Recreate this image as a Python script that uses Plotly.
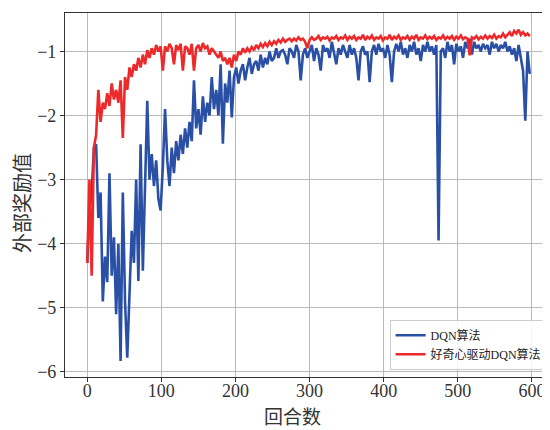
import plotly.graph_objects as go

# Episode step used when reading the curves off the picture
step = 3

dqn_reward = [
    -4.3, -3.5, -3.2, -2.5, -2.45, -3.6, -3.2, -4.9, -4.2, -4.6,
    -2.9, -4.5, -3.9, -5.1, -4.0, -5.83, -3.2, -4.9, -5.78, -4.7,
    -3.8, -4.3, -3.0, -4.58, -2.45, -4.42, -3.2, -1.77, -3.0, -2.6,
    -3.1, -2.7, -3.3, -3.48, -2.8, -1.9, -2.7, -3.1, -2.5, -2.9,
    -2.4, -2.7, -2.3, -2.6, -2.2, -2.5, -2.1, -2.4, -1.45, -2.2,
    -1.9, -2.3, -1.7, -2.1, -1.8, -2.0, -1.4, -1.9, -1.6, -2.0,
    -1.2, -2.44, -1.5, -1.8, -1.3, -2.03, -1.4, -1.25, -1.5, -1.3,
    -1.2, -1.45, -1.25, -1.1, -1.35, -1.2, -1.15, -1.3, -1.05, -1.25,
    -1.1, -1.2, -1.0, -1.15, -1.1, -0.95, -1.1, -1.0, -0.98, -1.05,
    -1.2, -0.95, -1.0, -1.1, -0.9, -1.0, -1.45, -1.05, -0.95, -1.1,
    -1.0, -0.9, -1.15, -0.95, -1.05, -1.3, -0.9, -1.0, -0.95, -1.1,
    -0.85, -1.0, -1.2, -0.95, -1.05, -0.9, -1.0, -1.1, -0.9, -1.05,
    -0.95, -1.1, -1.45, -1.0, -0.92, -1.05, -1.0, -1.48, -1.0, -0.9,
    -1.05, -0.88, -1.0, -0.95, -1.1, -0.9, -1.05, -1.48, -1.0, -0.88,
    -1.0, -0.85, -1.05, -0.95, -1.1, -0.9, -1.0, -0.85, -1.05, -0.95,
    -1.15, -0.9, -1.0, -0.85, -1.0, -0.92, -1.05, -0.9, -3.95, -1.0,
    -0.95, -1.1, -0.85, -1.0, -0.9, -1.2, -0.88, -1.0, -0.92, -1.1,
    -0.85, -0.95, -0.8, -1.05, -0.85, -0.95, -0.9, -1.0, -0.88, -0.95,
    -0.9, -1.05, -0.85, -0.95, -0.88, -1.0, -0.9, -0.95, -0.85, -1.0,
    -0.92, -1.05, -0.95, -1.15, -0.9, -1.1, -1.3, -2.08, -1.0, -1.35,
]

curiosity_reward = [
    -4.3, -3.0, -4.5, -2.5, -2.3, -1.6, -2.1, -1.8, -1.9, -1.65,
    -1.85, -1.5, -1.75, -1.6, -1.8, -1.45, -2.35, -1.4, -1.6, -1.25,
    -1.4, -1.2, -1.3, -1.1, -1.25, -1.05, -1.2, -0.98, -1.1, -0.95,
    -1.05, -0.9, -1.0, -0.92, -1.3, -0.92, -1.0, -0.88, -0.95, -1.2,
    -0.9, -0.98, -0.88, -1.3, -0.92, -0.95, -1.05, -0.88, -1.3, -0.95,
    -0.9, -1.0, -0.87, -0.95, -0.92, -1.05, -0.95, -1.0, -1.05, -1.1,
    -1.0, -1.15, -1.1, -1.2, -1.1, -1.25, -1.05, -1.15, -1.0, -1.05,
    -0.95, -1.02, -0.95, -1.0, -0.93, -0.98, -0.9, -0.95, -0.88, -0.93,
    -0.87, -0.92, -0.85, -0.9, -0.84, -0.88, -0.82, -0.86, -0.8, -0.85,
    -0.82, -0.8, -0.84, -0.8, -0.83, -0.78, -0.82, -0.8, -0.85, -0.95,
    -0.82, -0.78, -0.82, -0.8, -0.76, -0.82, -0.78, -0.8, -0.77, -0.83,
    -0.78, -0.8, -0.76, -0.82, -0.78, -0.8, -0.75, -0.82, -0.77, -0.8,
    -0.76, -0.82, -0.78, -0.8, -0.74, -0.82, -0.77, -0.8, -0.75, -0.82,
    -0.78, -0.8, -0.76, -0.83, -0.78, -0.8, -0.74, -0.82, -0.77, -0.8,
    -0.75, -0.82, -0.78, -0.8, -0.76, -0.82, -0.77, -0.8, -0.74, -0.82,
    -0.78, -0.8, -0.75, -0.81, -0.77, -0.8, -0.76, -0.82, -0.78, -0.8,
    -0.75, -0.81, -0.77, -0.8, -0.76, -0.82, -0.77, -0.8, -0.75, -0.81,
    -0.78, -0.8, -1.06, -0.78, -0.8, -0.76, -0.81, -0.77, -0.8, -0.75,
    -0.8, -0.76, -0.79, -0.74, -0.8, -0.76, -0.78, -0.72, -0.78, -0.74,
    -0.7, -0.76, -0.68, -0.72, -0.66, -0.74, -0.7, -0.75, -0.72, -0.76,
]

series_names = ["DQN算法", "好奇心驱动DQN算法"]
x_ticks = [0, 100, 200, 300, 400, 500, 600]
y_ticks = [-6, -5, -4, -3, -2, -1]
x_title = "回合数"
y_title = "外部奖励值"

ep_dqn = list(range(0, step * len(dqn_reward), step))
ep_cur = list(range(0, step * len(curiosity_reward), step))

BLUE = "#2a50a6"
RED = "#ec2a2c"
SERIF = "Liberation Serif, DejaVu Serif, serif"
CJK = "Noto Sans CJK SC, sans-serif"

# page body has an 8px margin: plot area in page px is x 65..549, y 13..377
OFF = 8
W, H = 550 - OFF, 430 - OFF
L, T = 65 - OFF, 13 - OFF
PW, PH = 484, 364

fig = go.Figure()
fig.add_trace(go.Scatter(x=ep_dqn, y=dqn_reward, mode="lines", name=series_names[0],
                         line=dict(color=BLUE, width=2.6)))
fig.add_trace(go.Scatter(x=ep_cur, y=curiosity_reward, mode="lines", name=series_names[1],
                         line=dict(color=RED, width=2.6)))

axis_common = dict(
    showgrid=True, gridcolor="#b9b9b9", gridwidth=1.4,
    showline=True, linecolor="#333333", linewidth=1.2, mirror=True,
    ticks="outside", ticklen=4, tickcolor="#333333", tickwidth=1,
    zeroline=False,
    tickfont=dict(family=SERIF, size=18, color="#333333"),
)

fig.update_layout(
    width=W, height=H,
    margin=dict(l=L, r=W - L - PW, t=T, b=H - T - PH, autoexpand=False),
    paper_bgcolor="white", plot_bgcolor="white",
    xaxis=dict(range=[-30, 623], tickvals=x_ticks, automargin=False,
               ticklabelstandoff=-7, **axis_common),
    yaxis=dict(range=[-6.08, -0.40], tickvals=y_ticks, automargin=False, **axis_common),
    legend=dict(
        x=0.995, y=0.02, xanchor="right", yanchor="bottom",
        bgcolor="rgba(255,255,255,0.85)", bordercolor="#cccccc", borderwidth=1,
        font=dict(family="Liberation Serif, " + CJK, size=12, color="#222222"),
        itemwidth=30, tracegroupgap=0,
    ),
    showlegend=True,
    annotations=[
        dict(text=x_title, xref="paper", yref="paper", x=(292 - 65) / PW, y=-(415 - 377) / PH,
             xanchor="center", yanchor="middle", showarrow=False,
             font=dict(family=CJK, size=19, color="#333333")),
        dict(text=y_title, xref="paper", yref="paper", x=-(65 - 22) / PW, y=(377 - 203) / PH,
             xanchor="center", yanchor="middle", showarrow=False, textangle=-90,
             font=dict(family=CJK, size=20, color="#333333")),
    ],
)

fig.write_html("out.html")
